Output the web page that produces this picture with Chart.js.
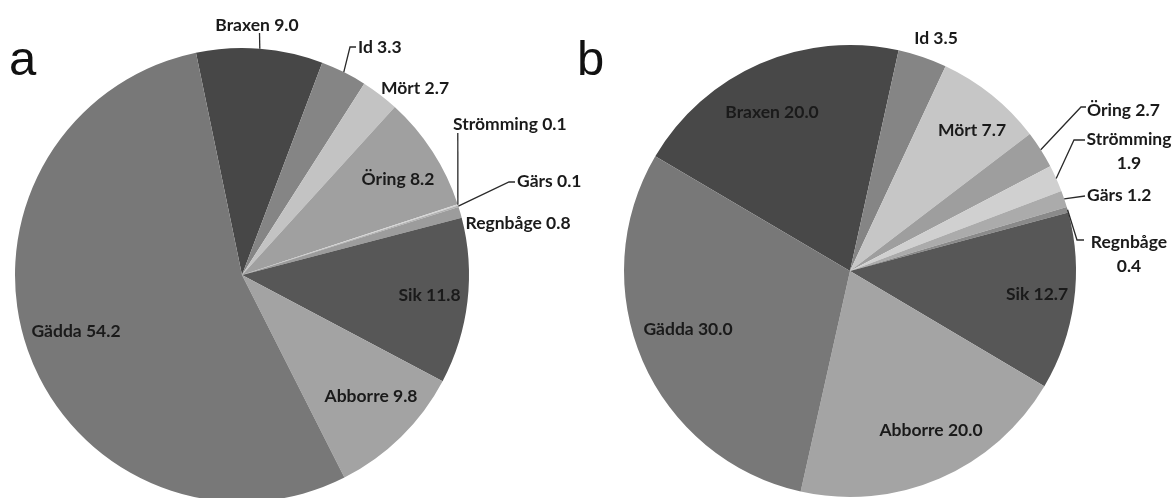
<!DOCTYPE html>
<html>
<head>
<meta charset="utf-8">
<script src="https://cdn.jsdelivr.net/npm/chart.js@4"></script>
<style>
  html, body { margin: 0; padding: 0; background: #fff; overflow: hidden; }
  body { width: 1174px; height: 498px; position: relative; }
  .panel { position: absolute; top: 0; width: 587px; height: 510px; }
  #wrapA { left: 0; }
  #wrapB { left: 587px; }
  .tag { position: absolute; font-family: "Liberation Sans", Arial, sans-serif; font-size: 49px; line-height: 49px; color: #111; }
</style>
</head>
<body>
<div class="panel" id="wrapA"><canvas id="pieA" width="587" height="510"></canvas></div>
<div class="panel" id="wrapB"><canvas id="pieB" width="587" height="510"></canvas></div>
<div class="tag" style="left:9px; top:34px;">a</div>
<div class="tag" style="left:577px; top:34px;">b</div>
<script>
// Catch composition, percent by species
const speciesA = ['Braxen', 'Id', 'Mört', 'Öring', 'Strömming', 'Gärs', 'Regnbåge', 'Sik', 'Abborre', 'Gädda'];
const valuesA  = [9.0, 3.3, 2.7, 8.2, 0.1, 0.1, 0.8, 11.8, 9.8, 54.2];

const speciesB = ['Braxen', 'Id', 'Mört', 'Öring', 'Strömming', 'Gärs', 'Regnbåge', 'Sik', 'Abborre', 'Gädda'];
const valuesB  = [20.0, 3.5, 7.7, 2.7, 1.9, 1.2, 0.4, 12.7, 20.0, 30.0];

// Slice fills (greyscale)
const fillsA = ['#474747', '#858585', '#c3c3c3', '#a0a0a0', '#d4d4d4', '#b0b0b0', '#9c9c9c', '#575757', '#a3a3a3', '#787878'];
const fillsB = ['#484848', '#858585', '#c6c6c6', '#9e9e9e', '#d0d0d0', '#ababab', '#8a8a8a', '#575757', '#a4a4a4', '#787878'];

// Label placement relative to the pie centre; leader = knee points after the slice edge
const placeA = [
  { at: [15, -250], leader: [[17.5, -242]] },
  { at: [116, -228], align: 'left', leader: [[108, -228], [114, -228]] },
  { at: [173, -187] },
  { at: [156, -96] },
  { at: [211, -151], align: 'left', leader: [[215.8, -142]] },
  { at: [275, -94], align: 'left', leader: [[267, -93], [273, -93]] },
  { at: [276, -52] },
  { at: [187.5, 20] },
  { at: [129, 121] },
  { at: [-166, 56] }
];
const placeB = [
  { at: [-78, -159] },
  { at: [86, -233] },
  { at: [122, -141] },
  { at: [237, -161], align: 'left', leader: [[231, -164], [236, -164]] },
  { at: [279, -132], wrap: true, leader: [[224, -131], [235, -131]] },
  { at: [237, -76], align: 'left', leader: [[235, -75]] },
  { at: [279, -29], wrap: true, leader: [[227, -31], [234, -31]] },
  { at: [187, 23] },
  { at: [81, 159] },
  { at: [-162, 58] }
];

const sliceLabels = {
  id: 'sliceLabels',
  afterDatasetsDraw(chart, args, opts) {
    const ctx = chart.ctx;
    const meta = chart.getDatasetMeta(0);
    const values = chart.data.datasets[0].data;
    ctx.save();
    ctx.font = 'bold 17.5px Lato, "Open Sans", sans-serif';
    ctx.fillStyle = '#1a1a1a';
    ctx.strokeStyle = '#2a2a2a';
    ctx.lineWidth = 1.3;
    ctx.textBaseline = 'middle';
    meta.data.forEach((arc, i) => {
      const p = arc.getProps(['x', 'y', 'startAngle', 'endAngle', 'outerRadius'], true);
      const spec = opts.place[i];
      if (spec.leader) {
        const mid = (p.startAngle + p.endAngle) / 2;
        ctx.beginPath();
        ctx.moveTo(p.x + Math.cos(mid) * p.outerRadius, p.y + Math.sin(mid) * p.outerRadius);
        spec.leader.forEach(([dx, dy]) => ctx.lineTo(p.x + dx, p.y + dy));
        ctx.stroke();
      }
      const name = chart.data.labels[i];
      const val = values[i].toFixed(1);
      const lines = spec.wrap ? [name, val] : [name + ' ' + val];
      ctx.textAlign = spec.align || 'center';
      lines.forEach((t, k) => ctx.fillText(t, p.x + spec.at[0], p.y + spec.at[1] + k * 24));
    });
    ctx.restore();
  }
};

function makePie(id, labels, values, fills, rotation, padding, place) {
  return new Chart(document.getElementById(id), {
    type: 'pie',
    data: {
      labels: labels,
      datasets: [{ data: values, backgroundColor: fills, borderWidth: 0 }]
    },
    options: {
      responsive: false,
      animation: false,
      rotation: rotation,
      layout: { padding: padding },
      plugins: {
        legend: { display: false },
        tooltip: { enabled: false },
        sliceLabels: { place: place }
      }
    },
    plugins: [sliceLabels]
  });
}

makePie('pieA', speciesA, valuesA, fillsA, -11.7, { left: 15, right: 118, top: 48, bottom: 8 }, placeA);
makePie('pieB', speciesB, valuesB, fillsB, -59.5, { left: 37, right: 98, top: 45, bottom: 13 }, placeB);
</script>
</body>
</html>
